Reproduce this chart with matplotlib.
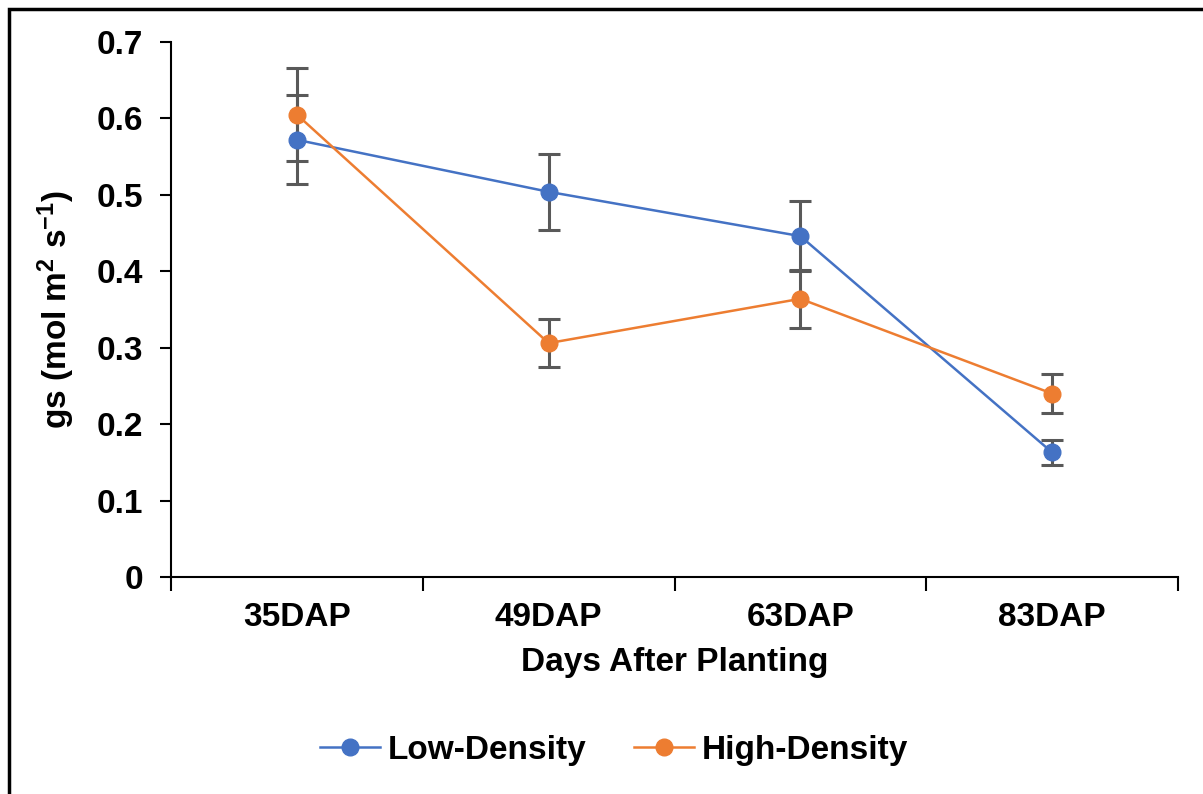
import matplotlib
matplotlib.use("Agg")
import matplotlib.pyplot as plt
import numpy as np
from matplotlib.patches import Rectangle

plt.rcParams['font.family'] = ['Liberation Sans', 'DejaVu Sans']
plt.rcParams['mathtext.fontset'] = 'custom'
plt.rcParams['mathtext.bf'] = 'Liberation Sans:bold'
plt.rcParams['mathtext.rm'] = 'Liberation Sans:bold'
plt.rcParams['mathtext.default'] = 'bf'

categories = ["35DAP", "49DAP", "63DAP", "83DAP"]
low_density = [0.572, 0.504, 0.446, 0.163]
low_err = [0.058, 0.050, 0.046, 0.016]
high_density = [0.605, 0.306, 0.364, 0.240]
high_err = [0.061, 0.031, 0.038, 0.025]
yticks = [0, 0.1, 0.2, 0.3, 0.4, 0.5, 0.6, 0.7]
ytick_labels = ["0", "0.1", "0.2", "0.3", "0.4", "0.5", "0.6", "0.7"]

BLUE = "#4472C4"
ORANGE = "#ED7D31"
GRAY = "#595959"
FS = 24

fig = plt.figure(figsize=(12.03, 7.94), dpi=100)
ax = fig.add_axes([171/1203, 1-577/794, (1178-171)/1203, (577-42)/794])

x = np.arange(len(categories))
for vals, errs in [(low_density, low_err), (high_density, high_err)]:
    ax.errorbar(x, vals, yerr=errs, fmt='none', ecolor=GRAY, elinewidth=2.2,
                capsize=8, capthick=2.2, zorder=2)
for vals, col, lab in [(low_density, BLUE, "Low-Density"),
                       (high_density, ORANGE, "High-Density")]:
    ax.plot(x, vals, color=col, lw=1.8, marker='o', markersize=12,
            markerfacecolor=col, markeredgecolor=col, label=lab, zorder=3)

ax.set_xlim(-0.5, len(categories) - 0.5)
ax.set_ylim(0, 0.7)
ax.set_yticks(yticks)
ax.set_yticklabels(ytick_labels)
ax.set_xticks(x)
ax.set_xticklabels(categories)
ax.set_xticks(np.arange(-0.5, len(categories)), minor=True)

for s in ['top', 'right']:
    ax.spines[s].set_visible(False)
for s in ['left', 'bottom']:
    ax.spines[s].set_linewidth(1.5)
    ax.spines[s].set_color('black')

ax.tick_params(axis='y', direction='out', length=8, width=1.5, pad=12,
               labelsize=FS)
ax.tick_params(axis='x', which='major', length=0, pad=18, labelsize=FS)
ax.tick_params(axis='x', which='minor', direction='out', length=10, width=1.5)
for t in ax.get_xticklabels() + ax.get_yticklabels():
    t.set_fontweight('bold')

ax.set_xlabel("Days After Planting", fontsize=FS, fontweight='bold', labelpad=10)
ax.set_ylabel(r"gs (mol m$^{2}$ s$^{-1}$)", fontsize=FS, fontweight='bold',
              labelpad=14)

leg = fig.legend(loc='center', bbox_to_anchor=(614/1203, 1-750/794), ncol=2,
                 frameon=False, prop={'weight': 'bold', 'size': FS},
                 handlelength=1.8, columnspacing=1.4, handletextpad=0.25)

fig.patches.append(Rectangle((9/1203, -0.1), 1.2, 1.1 - 9/794,
                             transform=fig.transFigure, fill=False,
                             edgecolor='black', linewidth=2.5, zorder=10))

fig.savefig("out.png", dpi=100)
